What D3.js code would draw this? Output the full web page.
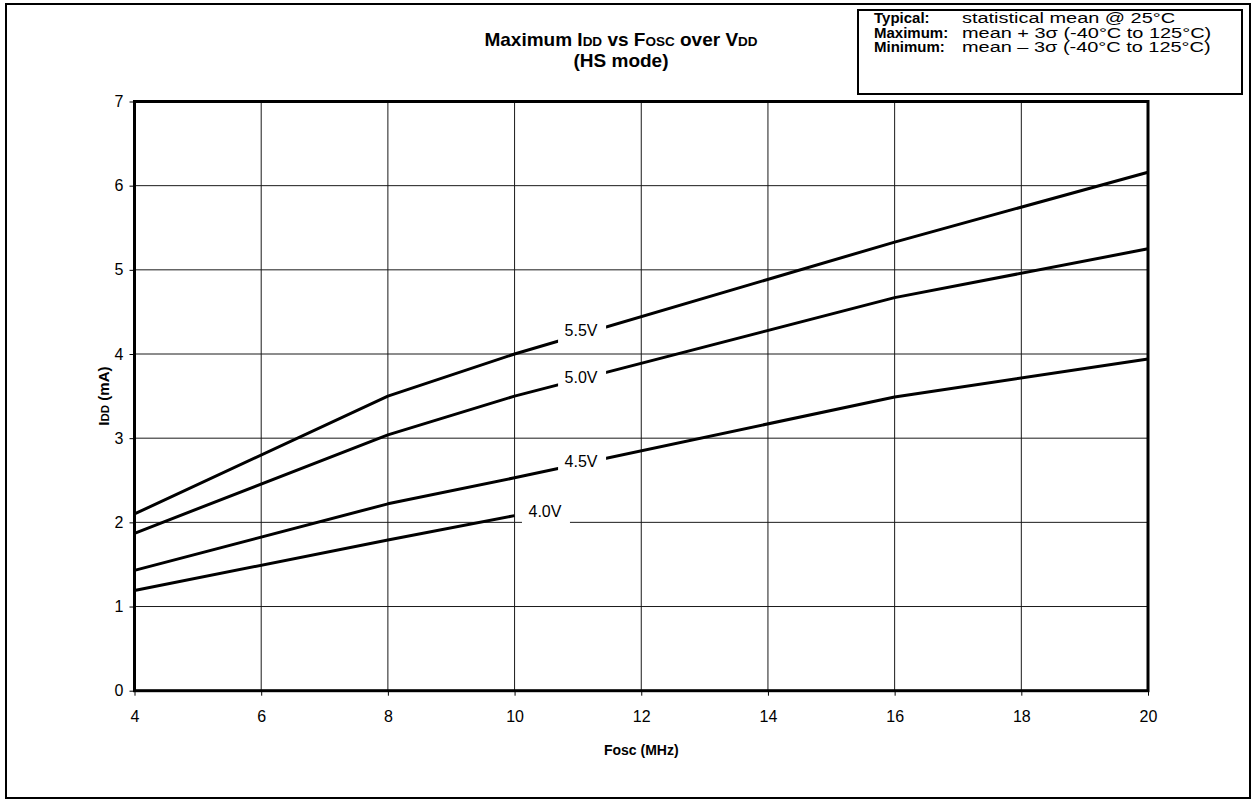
<!DOCTYPE html>
<html>
<head>
<meta charset="utf-8">
<script src="https://cdn.jsdelivr.net/npm/d3@7"></script>
<style>
  body { margin: 0; background: #fff; }
  text { font-family: "Liberation Sans", Arial, sans-serif; }
</style>
</head>
<body>
<svg id="chart" width="1254" height="802"></svg>
<script>
const freq = [4, 8, 10, 16, 20];
const idd55 = [2.10, 3.50, 4.00, 5.33, 6.16];
const idd50 = [1.87, 3.04, 3.50, 4.67, 5.25];
const idd45 = [1.43, 2.22, 2.53, 3.49, 3.94];
const freq40 = [4, 8, 10];
const idd40 = [1.19, 1.79, 2.08];
const seriesNames = ["5.5V", "5.0V", "4.5V", "4.0V"];
const labelPos = [[11.05, 4.285], [11.05, 3.727], [11.05, 2.729], [10.48, 2.135]];
const xTicks = [4, 6, 8, 10, 12, 14, 16, 18, 20];
const yTicks = [0, 1, 2, 3, 4, 5, 6, 7];
const legendKeys = ["Typical:", "Maximum:", "Minimum:"];
const legendVals = ["statistical mean @ 25°C", "mean + 3σ (-40°C to 125°C)", "mean – 3σ (-40°C to 125°C)"];

const FONT = "'Liberation Sans', Arial, sans-serif";
const svg = d3.select("#chart");
const x = d3.scaleLinear().domain([4, 20]).range([134.5, 1148]);
const y = d3.scaleLinear().domain([0, 7]).range([690.7, 101.5]);

// outer border
svg.append("rect").attr("x", 6).attr("y", 4).attr("width", 1244).attr("height", 794)
  .attr("fill", "none").attr("stroke", "#000").attr("stroke-width", 2);

// gridlines
const g = svg.append("g");
g.selectAll(".vg").data(xTicks.slice(1, -1)).join("line")
  .attr("x1", d => x(d)).attr("x2", d => x(d)).attr("y1", y(0)).attr("y2", y(7))
  .attr("stroke", "#1a1a1a").attr("stroke-width", 1);
g.selectAll(".hg").data(yTicks.slice(1, -1)).join("line")
  .attr("x1", x(4)).attr("x2", x(20)).attr("y1", d => y(d)).attr("y2", d => y(d))
  .attr("stroke", "#1a1a1a").attr("stroke-width", 1);

// axes
const xAxis = d3.axisBottom(x).tickValues(xTicks).tickSize(5).tickSizeOuter(0).tickPadding(15)
  .tickFormat(d3.format("d"));
const yAxis = d3.axisLeft(y).tickValues(yTicks).tickSize(5).tickSizeOuter(0).tickPadding(6)
  .tickFormat(d3.format("d"));
const xa = svg.append("g").attr("transform", `translate(0,${y(0)})`).call(xAxis);
const ya = svg.append("g").attr("transform", `translate(${x(4)},0)`).call(yAxis);
[xa, ya].forEach(a => {
  a.attr("font-size", 16).attr("font-family", FONT);
  a.select(".domain").remove();
  a.selectAll("line").attr("stroke", "#000").attr("stroke-width", 1);
  a.selectAll("text").attr("fill", "#000");
});

// data lines
const line = d3.line().x(d => x(d[0])).y(d => y(d[1]));
const seriesData = [
  d3.zip(freq, idd55), d3.zip(freq, idd50), d3.zip(freq, idd45), d3.zip(freq40, idd40)
];
svg.selectAll(".series").data(seriesData).join("path")
  .attr("d", line).attr("fill", "none").attr("stroke", "#000").attr("stroke-width", 3)
  .attr("stroke-linejoin", "round");

// series labels with white boxes
seriesNames.forEach((name, i) => {
  const cx = x(labelPos[i][0]), cy = y(labelPos[i][1]);
  svg.append("rect").attr("x", cx - 23).attr("y", cy - 13).attr("width", 48).attr("height", 26)
    .attr("fill", "#fff");
  svg.append("text").attr("x", cx).attr("y", cy + 6).attr("text-anchor", "middle")
    .attr("font-size", 16).text(name);
});

// plot frame
svg.append("rect").attr("x", x(4)).attr("y", y(7)).attr("width", x(20) - x(4)).attr("height", y(0) - y(7))
  .attr("fill", "none").attr("stroke", "#000").attr("stroke-width", 3);

// title
const t1 = svg.append("text").attr("x", 621).attr("y", 46).attr("text-anchor", "middle")
  .attr("font-size", 19).attr("font-weight", "bold");
t1.append("tspan").text("Maximum I");
t1.append("tspan").attr("font-size", 13.5).text("DD");
t1.append("tspan").text(" vs F");
t1.append("tspan").attr("font-size", 13.5).text("OSC");
t1.append("tspan").text(" over V");
t1.append("tspan").attr("font-size", 13.5).text("DD");
svg.append("text").attr("x", 621).attr("y", 67).attr("text-anchor", "middle")
  .attr("font-size", 19).attr("font-weight", "bold").text("(HS mode)");

// axis titles
svg.append("text").attr("x", x(12)).attr("y", 755).attr("text-anchor", "middle")
  .attr("font-size", 14).attr("font-weight", "bold").text("Fosc (MHz)");
const yl = svg.append("text").attr("transform", `translate(109,${y(3.5)}) rotate(-90)`)
  .attr("text-anchor", "middle").attr("font-size", 15).attr("font-weight", "bold");
yl.append("tspan").text("I");
yl.append("tspan").attr("font-size", 11.5).text("DD");
yl.append("tspan").text(" (mA)");

// legend box
svg.append("rect").attr("x", 858).attr("y", 10).attr("width", 384).attr("height", 84)
  .attr("fill", "#fff").attr("stroke", "#000").attr("stroke-width", 2);
legendKeys.forEach((k, i) => {
  svg.append("text").attr("x", 874).attr("y", 23 + i * 14.5).attr("font-size", 15)
    .attr("font-weight", "bold").text(k);
  svg.append("g").attr("transform", `translate(962,${23 + i * 14.5}) scale(1.33,1)`)
    .append("text").attr("x", 0).attr("y", 0).attr("font-size", 15)
    .text(legendVals[i]);
});
</script>
</body>
</html>
